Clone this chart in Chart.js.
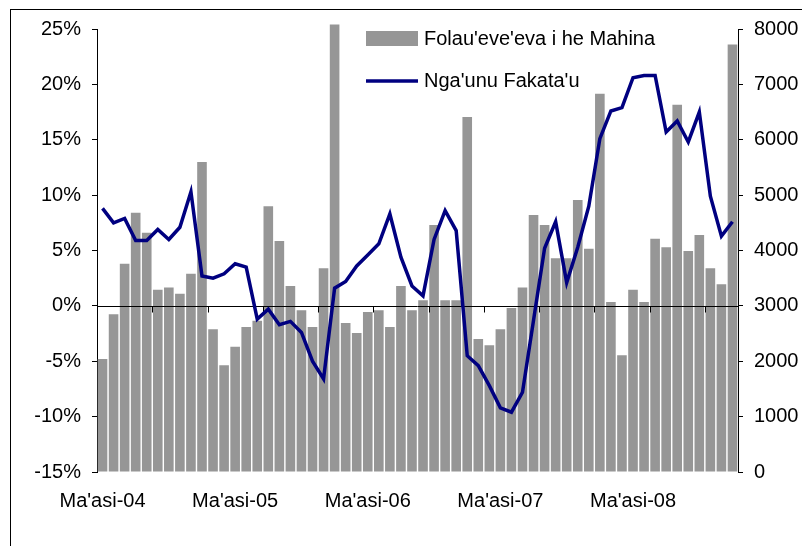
<!DOCTYPE html>
<html>
<head>
<meta charset="utf-8">
<script src="https://cdn.jsdelivr.net/npm/chart.js@4/dist/chart.umd.min.js"></script>
<style>
  html, body { margin: 0; padding: 0; background: #fff; }
  #wrap { position: relative; width: 802px; height: 546px; }
  #frame { position: absolute; left: 10px; top: 9px; width: 800px; height: 545px; border-left: 1px solid #000; border-top: 1px solid #000; box-sizing: border-box; }
</style>
</head>
<body>
<div id="wrap">
  <div id="frame"></div>
  <canvas id="chart" width="802" height="546"></canvas>
</div>
<script>
// months from Ma'asi 2004 to Tisema 2008
const monthNames = ['Sanuali', 'Fepueli', "Ma'asi", "'Epeleli", 'Me', 'Sune', 'Siulai', "'Aokosi", 'Sepitema', "'Okatopa", 'Novema', 'Tisema'];
const categories = [];
for (let y = 4; y <= 8; y++)
{
  for (let m = (y == 4) ? 2 : 0; m < 12; m++)
  {
    categories.push(monthNames[m] + '-0' + y);
  }
}

// Folau'eve'eva i he Mahina (right axis)
const arrivals = [
  2040, 2850, 3760, 4680, 4320, 3290, 3330, 3220, 3580, 5600,
  2580, 1930, 2260, 2620, 2730, 4800, 4170, 3360, 2920, 2620,
  3680, 8080, 2690, 2510, 2890, 2920, 2620, 3360, 2920, 3100,
  4460, 3100, 3100, 6410, 2400, 2290, 2580, 2960, 3330, 4640,
  4460, 3860, 3860, 4910, 4030, 6830, 3070, 2110, 3290, 3070,
  4210, 4060, 6630, 3990, 4280, 3680, 3390, 7720
];

// Nga'unu Fakata'u (left axis, %)
const growth = [
  8.8, 7.5, 7.9, 5.9, 5.9, 6.9, 6.0, 7.1, 10.3, 2.7,
  2.5, 2.9, 3.8, 3.5, -1.2, -0.3, -1.7, -1.4, -2.4, -5.0,
  -6.6, 1.6, 2.2, 3.6, 4.6, 5.6, 8.3, 4.4, 1.8, 0.9,
  6.0, 8.6, 6.8, -4.5, -5.4, -7.2, -9.2, -9.6, -7.8, -1.3,
  5.2, 7.6, 2.1, 5.3, 9.0, 15.1, 17.6, 17.9, 20.6, 20.8,
  20.8, 15.7, 16.7, 14.8, 17.5, 9.9, 6.3, 7.6
];

const leftTicks = [-15, -10, -5, 0, 5, 10, 15, 20, 25];
const rightTicks = [0, 1000, 2000, 3000, 4000, 5000, 6000, 7000, 8000];

const font = {family: "'Liberation Sans', Arial, sans-serif", size: 20};

// {{{ axis line at 0% with tick marks every 5 months, drawn over the bars
const zeroAxis =
{
  id: 'zeroAxis',
  beforeDatasetDraw(chart, args)
  {
    if (args.index != 0)
    {
      return;
    }
    let ctx = chart.ctx;
    let x = chart.scales.x;
    let y0 = Math.round(chart.scales.y.getPixelForValue(0)) + 0.5;
    let w = (x.right - x.left) / categories.length;
    ctx.save();
    ctx.strokeStyle = '#000';
    ctx.lineWidth = 1;
    ctx.beginPath();
    ctx.moveTo(x.left, y0);
    ctx.lineTo(x.right, y0);
    for (let i = 5; i < categories.length; i += 5)
    {
      let px = Math.round(x.left + i * w) + 0.5;
      ctx.moveTo(px, y0);
      ctx.lineTo(px, y0 + 6);
    }
    ctx.stroke();
    ctx.restore();
  }
};
// }}}

// {{{ legend in two rows over the plot
const legendBox =
{
  id: 'legendBox',
  afterDraw(chart)
  {
    let ctx = chart.ctx;
    let ds = chart.data.datasets;
    ctx.save();
    ctx.font = font.size + 'px ' + font.family;
    ctx.textBaseline = 'middle';
    // bars
    ctx.fillStyle = ds[1].backgroundColor;
    ctx.fillRect(366, 31, 52, 15);
    ctx.fillStyle = '#000';
    ctx.fillText(ds[1].label, 424, 39);
    // line
    ctx.strokeStyle = ds[0].borderColor;
    ctx.lineWidth = ds[0].borderWidth;
    ctx.beginPath();
    ctx.moveTo(366, 81);
    ctx.lineTo(418, 81);
    ctx.stroke();
    ctx.fillText(ds[0].label, 424, 81);
    ctx.restore();
  }
};
// }}}

new Chart(document.getElementById('chart'),
{
  data:
  {
    labels: categories,
    datasets:
    [
      {type: 'line', label: "Nga'unu Fakata'u", data: growth, yAxisID: 'y', borderColor: '#000080', borderWidth: 3.5, pointRadius: 0, tension: 0, order: 0},
      {type: 'bar', label: "Folau'eve'eva i he Mahina", data: arrivals, yAxisID: 'y2', backgroundColor: '#969696', categoryPercentage: 1, barPercentage: 0.87, clip: false, order: 1}
    ]
  },
  options:
  {
    responsive: false,
    animation: false,
    layout: {padding: {top: 29, left: 0, right: 0, bottom: 0}},
    plugins: {legend: {display: false}, tooltip: {enabled: false}},
    scales:
    {
      x:
      {
        grid: {display: false, drawTicks: false},
        border: {display: false},
        ticks: {autoSkip: false, maxRotation: 0, minRotation: 0, padding: 17, color: '#000', font: font, callback: (v, i) => (i % 12 == 0) ? categories[i] : ''},
        afterFit: (s) => { s.height = 74; }
      },
      y:
      {
        position: 'left',
        min: leftTicks[0],
        max: leftTicks[leftTicks.length - 1],
        afterBuildTicks: (s) => { s.ticks = leftTicks.map((v) => ({value: v})); },
        grid: {drawOnChartArea: false, drawTicks: true, tickLength: 5, tickColor: '#000'},
        border: {display: true, color: '#000', width: 1},
        ticks: {padding: 11, color: '#000', font: font, callback: (v) => v + '%'},
        afterFit: (s) => { s.width = 97; }
      },
      y2:
      {
        position: 'right',
        min: rightTicks[0],
        max: rightTicks[rightTicks.length - 1],
        afterBuildTicks: (s) => { s.ticks = rightTicks.map((v) => ({value: v})); },
        grid: {drawOnChartArea: false, drawTicks: true, tickLength: 5, tickColor: '#000'},
        border: {display: true, color: '#000', width: 1},
        ticks: {padding: 11, color: '#000', font: font, callback: (v) => String(v)},
        afterFit: (s) => { s.width = 64; }
      }
    }
  },
  plugins: [zeroAxis, legendBox]
});
</script>
</body>
</html>
